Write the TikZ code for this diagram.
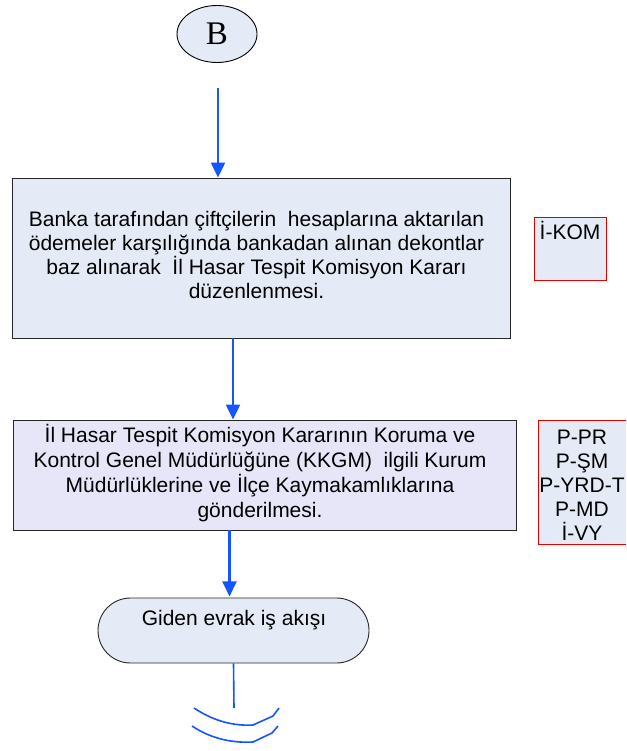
\documentclass[tikz,border=0pt]{standalone}
\usepackage{fontspec}
\setmainfont{Liberation Sans}
\newfontfamily\serifB{Liberation Serif}
\usetikzlibrary{arrows.meta,shapes.geometric,shapes.misc}
\definecolor{flowblue}{RGB}{20,85,255}
\definecolor{boxfill}{RGB}{229,235,246}
\definecolor{lavfill}{RGB}{230,230,248}
\tikzset{
  step box/.style={draw=black!85, line width=0.9pt, fill=boxfill, inner sep=0pt},
  ref box/.style={draw=red!90!black, line width=0.9pt, fill=boxfill, inner sep=0pt},
  flow/.style={draw=flowblue, line width=2.3pt, -{Triangle[length=15pt,width=14pt]}},
  txt/.style={align=center, font=\fontsize{21}{24}\selectfont, inner sep=0pt}
}
\begin{document}
\begin{tikzpicture}[x=1pt,y=-1pt]
 \useasboundingbox (0,0) rectangle (626,751);
 \begin{scope}
 \clip (0,0) rectangle (626,751);
 % connector from the previous page
 \node[draw, line width=0.9pt, fill=boxfill, ellipse, minimum width=80pt, minimum height=57pt, inner sep=0pt,
   font=\serifB\fontsize{33}{36}\selectfont] (b) at (217,34) {B};
 \coordinate (bout) at (218,88);
 % steps
 \node[step box, minimum width=498pt, minimum height=160pt] (karar) at (261,258) {};
 \node[txt] (karartxt) at (256.5,255) {Banka tarafından çiftçilerin\ \ hesaplarına aktarılan\\ödemeler karşılığında bankadan alınan dekontlar\\baz alınarak\ \ İl Hasar Tespit Komisyon Kararı\\düzenlenmesi.};
 \node[step box, fill=lavfill, minimum width=503pt, minimum height=110pt] (gonder) at (264.5,475) {};
 \node[txt, font=\fontsize{21}{25}\selectfont] (gondertxt) at (260,473) {İl Hasar Tespit Komisyon Kararının Koruma ve\\Kontrol Genel Müdürlüğüne (KKGM)\ \ ilgili Kurum\\Müdürlüklerine ve İlçe Kaymakamlıklarına\\gönderilmesi.};
 % responsibles
 \node[ref box, minimum width=72pt, minimum height=63pt] (ikom) at (570,248.5) {};
 \node[txt, anchor=north] (ikomtxt) at ([yshift=-5pt]ikom.north) {İ-KOM};
 \node[ref box, minimum width=94pt, minimum height=124pt] (sorumlu) at (585,482) {};
 \node[txt] (sorumlutxt) at (582,485) {P-PR\\P-ŞM\\P-YRD-T\\P-MD\\İ-VY};
 % end
 \node[step box, rounded rectangle, minimum width=271pt, minimum height=65pt] (giden) at (233.5,630.5) {};
 \node[txt] (gidentxt) at (234,620) {Giden evrak iş akışı};
 \coordinate (gidenout) at (234,708);
 % arrows
 \draw[flow] (bout) -- (bout |- karar.north);
 \draw[flow] ([xshift=-28pt]karar.south) -- ([xshift=-28pt]karar.south |- gonder.north);
 \draw[flow] (gonder.south -| giden.north) ++(-4,0) -- ++(0,66);
 \draw[flowblue, line width=1.6pt] (giden.south) -- (gidenout);
 % break mark
 \draw[flowblue, line width=1.6pt] (194,708) .. controls (215,722) and (235,726) .. (253,725) -- (273,716) -- (279,708);
 \draw[flowblue, line width=1.6pt] (192,726) .. controls (213,740) and (235,743) .. (253,742) -- (272,733) -- (278,726);
 \end{scope}
\end{tikzpicture}
\end{document}
